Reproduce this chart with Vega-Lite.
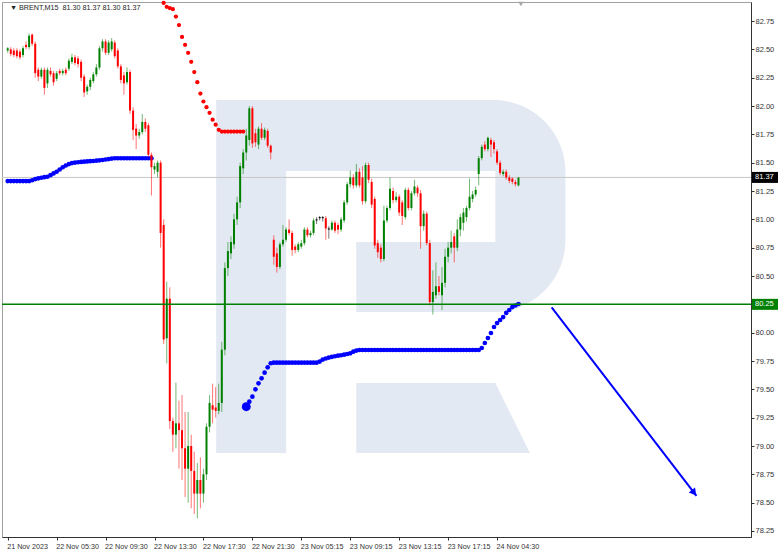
{
"$schema":"https://vega.github.io/schema/vega-lite/v6.json",
"width":749,"height":535,
"autosize":{"type":"none"},
"padding":{"left":2,"top":2,"right":31,"bottom":17},
"background":"#ffffff",
"config":{"view":{"stroke":"#a0a0a0","strokeWidth":1}},
"resolve":{"axis":{"x":"independent","y":"independent"}},
"datasets":{
"candles":[
{"i":0,"o":82.49,"h":82.52,"l":82.47,"c":82.51},{"i":1,"o":82.50,"h":82.52,"l":82.44,"c":82.46},{"i":2,"o":82.49,"h":82.51,"l":82.43,"c":82.45},{"i":3,"o":82.49,"h":82.51,"l":82.42,"c":82.44},{"i":4,"o":82.48,"h":82.50,"l":82.41,"c":82.43},{"i":5,"o":82.45,"h":82.53,"l":82.43,"c":82.51},{"i":6,"o":82.54,"h":82.57,"l":82.50,"c":82.52},{"i":7,"o":82.52,"h":82.64,"l":82.50,"c":82.62},{"i":8,"o":82.63,"h":82.64,"l":82.53,"c":82.55},{"i":9,"o":82.55,"h":82.57,"l":82.25,"c":82.29},
{"i":10,"o":82.32,"h":82.34,"l":82.22,"c":82.26},{"i":11,"o":82.26,"h":82.34,"l":82.24,"c":82.32},{"i":12,"o":82.32,"h":82.34,"l":82.10,"c":82.16},{"i":13,"o":82.20,"h":82.34,"l":82.16,"c":82.32},{"i":14,"o":82.31,"h":82.34,"l":82.26,"c":82.28},{"i":15,"o":82.29,"h":82.31,"l":82.18,"c":82.21},{"i":16,"o":82.24,"h":82.31,"l":82.22,"c":82.29},{"i":17,"o":82.31,"h":82.33,"l":82.27,"c":82.29},{"i":18,"o":82.29,"h":82.33,"l":82.27,"c":82.31},{"i":19,"o":82.32,"h":82.34,"l":82.27,"c":82.29},
{"i":20,"o":82.33,"h":82.42,"l":82.31,"c":82.40},{"i":21,"o":82.39,"h":82.46,"l":82.37,"c":82.43},{"i":22,"o":82.43,"h":82.45,"l":82.36,"c":82.38},{"i":23,"o":82.42,"h":82.44,"l":82.34,"c":82.37},{"i":24,"o":82.39,"h":82.41,"l":82.22,"c":82.25},{"i":25,"o":82.26,"h":82.28,"l":82.08,"c":82.12},{"i":26,"o":82.13,"h":82.19,"l":82.10,"c":82.17},{"i":27,"o":82.17,"h":82.25,"l":82.14,"c":82.23},{"i":28,"o":82.22,"h":82.30,"l":82.20,"c":82.28},{"i":29,"o":82.28,"h":82.37,"l":82.26,"c":82.34},
{"i":30,"o":82.34,"h":82.53,"l":82.32,"c":82.51},{"i":31,"o":82.51,"h":82.59,"l":82.48,"c":82.57},{"i":32,"o":82.57,"h":82.59,"l":82.45,"c":82.47},{"i":33,"o":82.47,"h":82.58,"l":82.45,"c":82.56},{"i":34,"o":82.50,"h":82.60,"l":82.48,"c":82.57},{"i":35,"o":82.56,"h":82.58,"l":82.42,"c":82.44},{"i":36,"o":82.49,"h":82.51,"l":82.33,"c":82.35},{"i":37,"o":82.35,"h":82.37,"l":82.20,"c":82.23},{"i":38,"o":82.27,"h":82.30,"l":82.10,"c":82.20},{"i":39,"o":82.21,"h":82.34,"l":82.19,"c":82.30},
{"i":40,"o":82.30,"h":82.32,"l":81.93,"c":81.96},{"i":41,"o":81.96,"h":81.99,"l":81.70,"c":81.79},{"i":42,"o":81.80,"h":81.84,"l":81.62,"c":81.74},{"i":43,"o":81.74,"h":81.80,"l":81.71,"c":81.77},{"i":44,"o":81.77,"h":81.93,"l":81.75,"c":81.86},{"i":45,"o":81.86,"h":81.89,"l":81.77,"c":81.80},{"i":46,"o":81.83,"h":81.85,"l":81.55,"c":81.57},{"i":47,"o":81.57,"h":81.59,"l":81.21,"c":81.46},{"i":48,"o":81.44,"h":81.50,"l":81.40,"c":81.47},{"i":49,"o":81.42,"h":81.52,"l":81.37,"c":81.50},
{"i":50,"o":81.50,"h":81.52,"l":80.75,"c":80.88},{"i":51,"o":80.95,"h":81.00,"l":79.90,"c":79.94},{"i":52,"o":79.95,"h":80.45,"l":79.73,"c":80.30},{"i":53,"o":80.30,"h":80.40,"l":79.15,"c":79.22},{"i":54,"o":79.22,"h":79.25,"l":78.95,"c":79.10},{"i":55,"o":79.10,"h":79.56,"l":78.98,"c":79.20},{"i":56,"o":79.20,"h":79.40,"l":78.80,"c":79.14},{"i":57,"o":79.14,"h":79.45,"l":78.70,"c":78.98},{"i":58,"o":78.98,"h":79.30,"l":78.55,"c":78.80},{"i":59,"o":78.80,"h":79.30,"l":78.50,"c":79.00},
{"i":60,"o":79.00,"h":79.10,"l":78.45,"c":78.78},{"i":61,"o":78.78,"h":78.95,"l":78.40,"c":78.58},{"i":62,"o":78.58,"h":78.85,"l":78.36,"c":78.70},{"i":63,"o":78.70,"h":78.90,"l":78.45,"c":78.58},{"i":64,"o":78.58,"h":78.80,"l":78.50,"c":78.75},{"i":65,"o":78.75,"h":79.20,"l":78.70,"c":79.17},{"i":66,"o":79.17,"h":79.45,"l":79.12,"c":79.38},{"i":67,"o":79.36,"h":79.55,"l":79.20,"c":79.32},{"i":68,"o":79.34,"h":79.52,"l":79.25,"c":79.31},{"i":69,"o":79.31,"h":79.55,"l":79.28,"c":79.38},
{"i":70,"o":79.38,"h":79.92,"l":79.30,"c":79.85},{"i":71,"o":79.85,"h":80.62,"l":79.80,"c":80.57},{"i":72,"o":80.57,"h":80.80,"l":80.50,"c":80.72},{"i":73,"o":80.70,"h":80.85,"l":80.65,"c":80.80},{"i":74,"o":80.78,"h":81.05,"l":80.74,"c":81.00},{"i":75,"o":81.00,"h":81.20,"l":80.95,"c":81.15},{"i":76,"o":81.15,"h":81.50,"l":81.10,"c":81.47},{"i":77,"o":81.45,"h":81.62,"l":81.40,"c":81.59},{"i":78,"o":81.59,"h":81.80,"l":81.52,"c":81.74},{"i":79,"o":81.70,"h":82.00,"l":81.65,"c":81.98},
{"i":80,"o":81.98,"h":82.00,"l":81.63,"c":81.67},{"i":81,"o":81.76,"h":81.80,"l":81.64,"c":81.68},{"i":82,"o":81.66,"h":81.82,"l":81.62,"c":81.80},{"i":83,"o":81.80,"h":81.85,"l":81.70,"c":81.72},{"i":84,"o":81.72,"h":81.81,"l":81.70,"c":81.79},{"i":85,"o":81.78,"h":81.80,"l":81.63,"c":81.65},{"i":86,"o":81.65,"h":81.66,"l":81.53,"c":81.59},{"i":87,"o":80.82,"h":80.86,"l":80.60,"c":80.67},{"i":88,"o":80.70,"h":80.75,"l":80.53,"c":80.58},{"i":89,"o":80.58,"h":80.80,"l":80.56,"c":80.78},
{"i":90,"o":80.78,"h":80.95,"l":80.76,"c":80.82},{"i":91,"o":80.82,"h":80.93,"l":80.80,"c":80.91},{"i":92,"o":80.91,"h":81.00,"l":80.86,"c":80.88},{"i":93,"o":80.88,"h":80.90,"l":80.68,"c":80.73},{"i":94,"o":80.76,"h":80.78,"l":80.70,"c":80.73},{"i":95,"o":80.73,"h":80.80,"l":80.71,"c":80.78},{"i":96,"o":80.76,"h":80.82,"l":80.74,"c":80.79},{"i":97,"o":80.79,"h":80.93,"l":80.77,"c":80.91},{"i":98,"o":80.91,"h":80.93,"l":80.84,"c":80.86},{"i":99,"o":80.86,"h":80.90,"l":80.84,"c":80.88},
{"i":100,"o":80.88,"h":81.01,"l":80.86,"c":80.99},{"i":101,"o":80.99,"h":81.02,"l":80.96,"c":81.00},{"i":102,"o":81.01,"h":81.03,"l":80.99,"c":81.02},{"i":103,"o":81.01,"h":81.03,"l":80.98,"c":81.02},{"i":104,"o":81.01,"h":81.03,"l":80.82,"c":80.92},{"i":105,"o":80.91,"h":80.94,"l":80.83,"c":80.92},{"i":106,"o":80.91,"h":80.99,"l":80.90,"c":80.97},{"i":107,"o":80.97,"h":80.99,"l":80.88,"c":80.90},{"i":108,"o":80.95,"h":80.97,"l":80.87,"c":80.91},{"i":109,"o":80.91,"h":81.02,"l":80.89,"c":81.00},
{"i":110,"o":80.99,"h":81.17,"l":80.97,"c":81.15},{"i":111,"o":81.15,"h":81.33,"l":81.13,"c":81.31},{"i":112,"o":81.31,"h":81.43,"l":81.28,"c":81.37},{"i":113,"o":81.37,"h":81.40,"l":81.27,"c":81.30},{"i":114,"o":81.30,"h":81.49,"l":81.28,"c":81.42},{"i":115,"o":81.42,"h":81.45,"l":81.28,"c":81.30},{"i":116,"o":81.37,"h":81.47,"l":81.13,"c":81.16},{"i":117,"o":81.16,"h":81.50,"l":81.14,"c":81.48},{"i":118,"o":81.48,"h":81.50,"l":81.32,"c":81.35},{"i":119,"o":81.33,"h":81.36,"l":81.10,"c":81.13},
{"i":120,"o":81.18,"h":81.20,"l":80.74,"c":80.77},{"i":121,"o":80.79,"h":80.82,"l":80.66,"c":80.71},{"i":122,"o":80.75,"h":80.78,"l":80.62,"c":80.65},{"i":123,"o":80.65,"h":81.12,"l":80.63,"c":80.99},{"i":124,"o":80.99,"h":81.12,"l":80.97,"c":81.10},{"i":125,"o":81.10,"h":81.37,"l":81.08,"c":81.27},{"i":126,"o":81.25,"h":81.28,"l":81.14,"c":81.17},{"i":127,"o":81.17,"h":81.24,"l":81.15,"c":81.20},{"i":128,"o":81.20,"h":81.22,"l":81.03,"c":81.06},{"i":129,"o":81.15,"h":81.17,"l":80.95,"c":81.03},
{"i":130,"o":81.02,"h":81.28,"l":81.00,"c":81.26},{"i":131,"o":81.26,"h":81.28,"l":81.08,"c":81.10},{"i":132,"o":81.10,"h":81.25,"l":81.08,"c":81.23},{"i":133,"o":81.23,"h":81.35,"l":81.21,"c":81.29},{"i":134,"o":81.28,"h":81.30,"l":81.20,"c":81.23},{"i":135,"o":81.23,"h":81.26,"l":80.74,"c":80.94},{"i":136,"o":80.94,"h":81.08,"l":80.90,"c":81.05},{"i":137,"o":81.05,"h":81.07,"l":80.77,"c":80.79},{"i":138,"o":80.79,"h":80.82,"l":80.24,"c":80.27},{"i":139,"o":80.27,"h":80.55,"l":80.16,"c":80.36},
{"i":140,"o":80.33,"h":80.62,"l":80.30,"c":80.41},{"i":141,"o":80.41,"h":80.50,"l":80.33,"c":80.36},{"i":142,"o":80.33,"h":80.58,"l":80.20,"c":80.44},{"i":143,"o":80.44,"h":80.74,"l":80.40,"c":80.67},{"i":144,"o":80.67,"h":80.80,"l":80.62,"c":80.75},{"i":145,"o":80.75,"h":80.90,"l":80.70,"c":80.80},{"i":146,"o":80.85,"h":80.88,"l":80.62,"c":80.75},{"i":147,"o":80.75,"h":81.00,"l":80.72,"c":80.91},{"i":148,"o":80.91,"h":81.05,"l":80.85,"c":81.02},{"i":149,"o":80.97,"h":81.10,"l":80.90,"c":81.06},
{"i":150,"o":81.02,"h":81.12,"l":80.98,"c":81.10},{"i":151,"o":81.10,"h":81.36,"l":81.08,"c":81.20},{"i":152,"o":81.18,"h":81.25,"l":81.15,"c":81.22},{"i":153,"o":81.22,"h":81.29,"l":81.20,"c":81.26},{"i":154,"o":81.40,"h":81.56,"l":81.30,"c":81.54},{"i":155,"o":81.54,"h":81.66,"l":81.52,"c":81.64},{"i":156,"o":81.66,"h":81.69,"l":81.60,"c":81.62},{"i":157,"o":81.62,"h":81.73,"l":81.60,"c":81.72},{"i":158,"o":81.70,"h":81.72,"l":81.55,"c":81.66},{"i":159,"o":81.68,"h":81.70,"l":81.58,"c":81.62},
{"i":160,"o":81.60,"h":81.62,"l":81.48,"c":81.50},{"i":161,"o":81.50,"h":81.52,"l":81.39,"c":81.41},{"i":162,"o":81.40,"h":81.44,"l":81.38,"c":81.42},{"i":163,"o":81.42,"h":81.44,"l":81.35,"c":81.37},{"i":164,"o":81.37,"h":81.39,"l":81.32,"c":81.34},{"i":165,"o":81.36,"h":81.37,"l":81.31,"c":81.33},{"i":166,"o":81.33,"h":81.35,"l":81.29,"c":81.31},{"i":167,"o":81.30,"h":81.37,"l":81.29,"c":81.37}
],
"blue":[
{"i":0,"p":81.338},{"i":1,"p":81.338},{"i":2,"p":81.338},{"i":3,"p":81.338},{"i":4,"p":81.338},{"i":5,"p":81.338},{"i":6,"p":81.338},{"i":7,"p":81.338},{"i":8,"p":81.345},{"i":9,"p":81.355},{"i":10,"p":81.362},{"i":11,"p":81.367},{"i":12,"p":81.372},{"i":13,"p":81.376},{"i":14,"p":81.39},{"i":15,"p":81.405},{"i":16,"p":81.42},{"i":17,"p":81.44},{"i":18,"p":81.46},{"i":19,"p":81.475},{"i":20,"p":81.488},{"i":21,"p":81.497},{"i":22,"p":81.501},{"i":23,"p":81.504},{"i":24,"p":81.507},{"i":25,"p":81.509},{"i":26,"p":81.511},{"i":27,"p":81.513},{"i":28,"p":81.515},{"i":29,"p":81.518},{"i":30,"p":81.521},{"i":31,"p":81.524},{"i":32,"p":81.528},{"i":33,"p":81.532},{"i":34,"p":81.536},{"i":35,"p":81.539},{"i":36,"p":81.539},{"i":37,"p":81.539},{"i":38,"p":81.539},{"i":39,"p":81.539},{"i":40,"p":81.539},{"i":41,"p":81.539},{"i":42,"p":81.539},{"i":43,"p":81.539},{"i":44,"p":81.539},{"i":45,"p":81.539},{"i":46,"p":81.539},{"i":47,"p":81.539},
{"i":79,"p":79.391},{"i":80,"p":79.435},{"i":81,"p":79.50},{"i":82,"p":79.553},{"i":83,"p":79.597},{"i":84,"p":79.647},{"i":85,"p":79.694},{"i":86,"p":79.73},{"i":87,"p":79.735},{"i":88,"p":79.735},{"i":89,"p":79.735},{"i":90,"p":79.735},{"i":91,"p":79.735},{"i":92,"p":79.735},{"i":93,"p":79.735},{"i":94,"p":79.735},{"i":95,"p":79.735},{"i":96,"p":79.735},{"i":97,"p":79.735},{"i":98,"p":79.735},{"i":99,"p":79.735},{"i":100,"p":79.735},{"i":101,"p":79.735},{"i":102,"p":79.745},{"i":103,"p":79.763},{"i":104,"p":79.772},{"i":105,"p":79.78},{"i":106,"p":79.787},{"i":107,"p":79.792},{"i":108,"p":79.797},{"i":109,"p":79.801},{"i":110,"p":79.806},{"i":111,"p":79.812},{"i":112,"p":79.818},{"i":113,"p":79.832},{"i":114,"p":79.842},
{"i":115,"p":79.847},{"i":116,"p":79.847},{"i":117,"p":79.847},{"i":118,"p":79.847},{"i":119,"p":79.847},{"i":120,"p":79.847},{"i":121,"p":79.847},{"i":122,"p":79.847},{"i":123,"p":79.847},{"i":124,"p":79.847},{"i":125,"p":79.847},{"i":126,"p":79.847},{"i":127,"p":79.847},{"i":128,"p":79.847},{"i":129,"p":79.847},{"i":130,"p":79.847},{"i":131,"p":79.847},{"i":132,"p":79.847},{"i":133,"p":79.847},{"i":134,"p":79.847},{"i":135,"p":79.847},{"i":136,"p":79.847},{"i":137,"p":79.847},{"i":138,"p":79.847},{"i":139,"p":79.847},{"i":140,"p":79.847},{"i":141,"p":79.847},{"i":142,"p":79.847},{"i":143,"p":79.847},{"i":144,"p":79.847},{"i":145,"p":79.847},{"i":146,"p":79.847},{"i":147,"p":79.847},{"i":148,"p":79.847},{"i":149,"p":79.847},{"i":150,"p":79.847},{"i":151,"p":79.847},{"i":152,"p":79.847},{"i":153,"p":79.847},{"i":154,"p":79.847},
{"i":155,"p":79.865},{"i":156,"p":79.909},{"i":157,"p":79.953},{"i":158,"p":79.997},{"i":159,"p":80.05},{"i":160,"p":80.085},{"i":161,"p":80.112},{"i":162,"p":80.138},{"i":163,"p":80.174},{"i":164,"p":80.20},{"i":165,"p":80.226},{"i":166,"p":80.24},{"i":167,"p":80.253}
],
"red":[
{"i":51,"p":82.91},{"i":52,"p":82.875},{"i":53,"p":82.865},{"i":54,"p":82.855},{"i":55,"p":82.79},{"i":56,"p":82.715},{"i":57,"p":82.61},{"i":58,"p":82.54},{"i":59,"p":82.47},{"i":60,"p":82.39},{"i":61,"p":82.30},{"i":62,"p":82.21},{"i":63,"p":82.11},{"i":64,"p":82.04},{"i":65,"p":81.99},{"i":66,"p":81.94},{"i":67,"p":81.88},{"i":68,"p":81.835},{"i":69,"p":81.79},{"i":70,"p":81.775},{"i":71,"p":81.775},{"i":72,"p":81.775},{"i":73,"p":81.775},{"i":74,"p":81.775},{"i":75,"p":81.775},{"i":76,"p":81.775},{"i":77,"p":81.775}
]
},
"layer":[
{"data":{"values":[{"i":68.16,"i2":182.35,"p":82.053,"p2":80.182}]},
 "mark":{"type":"rect","color":"#e3e9f2","cornerRadiusTopRight":72,"cornerRadiusBottomRight":72},
 "encoding":{"x":{"field":"i","type":"quantitative","scale":{"domain":[-0.226,241.39],"nice":false,"zero":false},"axis":null},"x2":{"field":"i2"},
  "y":{"field":"p","type":"quantitative","scale":{"domain":[78.197,82.918],"nice":false,"zero":false},"axis":null},"y2":{"field":"p2"}}},
{"data":{"values":[{"i":91.06,"i2":159.45,"p":81.426,"p2":80.80},{"i":91.06,"i2":113.97,"p":80.81,"p2":80.17}]},
 "mark":{"type":"rect","color":"#ffffff"},
 "encoding":{"x":{"field":"i","type":"quantitative","scale":{"domain":[-0.226,241.39],"nice":false,"zero":false},"axis":null},"x2":{"field":"i2"},
  "y":{"field":"p","type":"quantitative","scale":{"domain":[78.197,82.918],"nice":false,"zero":false},"axis":null},"y2":{"field":"p2"}}},
{"data":{"values":[{"i":68.16,"i2":91.06,"p":80.19,"p2":78.938}]},
 "mark":{"type":"rect","color":"#e3e9f2"},
 "encoding":{"x":{"field":"i","type":"quantitative","scale":{"domain":[-0.226,241.39],"nice":false,"zero":false},"axis":null},"x2":{"field":"i2"},
  "y":{"field":"p","type":"quantitative","scale":{"domain":[78.197,82.918],"nice":false,"zero":false},"axis":null},"y2":{"field":"p2"}}},
{"data":{"values":[{"i":113.97,"p":79.556,"p2":78.938},{"i":159.45,"p":79.556,"p2":78.938},{"i":170.74,"p":78.938,"p2":78.938}]},
 "mark":{"type":"area","color":"#e3e9f2","opacity":1},
 "encoding":{"x":{"field":"i","type":"quantitative","scale":{"domain":[-0.226,241.39],"nice":false,"zero":false},"axis":null},
  "y":{"field":"p","type":"quantitative","scale":{"domain":[78.197,82.918],"nice":false,"zero":false},"axis":null},"y2":{"field":"p2"}}},
{"data":{"values":[{"p":81.37}]},
 "mark":{"type":"rule","color":"#c6c6c6","strokeWidth":1},
 "encoding":{"y":{"field":"p","type":"quantitative","scale":{"domain":[78.197,82.918],"nice":false,"zero":false},"axis":null}}},
{"data":{"name":"red"},
 "mark":{"type":"circle","size":18,"color":"#ff0000","opacity":1},
 "encoding":{"x":{"field":"i","type":"quantitative","scale":{"domain":[-0.226,241.39],"nice":false,"zero":false},"axis":null},
  "y":{"field":"p","type":"quantitative","scale":{"domain":[78.197,82.918],"nice":false,"zero":false},"axis":null}}},
{"data":{"name":"blue"},
 "mark":{"type":"circle","size":22,"color":"#0000ff","opacity":1},
 "encoding":{"x":{"field":"i","type":"quantitative","scale":{"domain":[-0.226,241.39],"nice":false,"zero":false},"axis":null},
  "y":{"field":"p","type":"quantitative","scale":{"domain":[78.197,82.918],"nice":false,"zero":false},"axis":null}}},
{"data":{"values":[{"i":78,"p":79.347}]},
 "mark":{"type":"circle","size":80,"color":"#0000ff","opacity":1},
 "encoding":{"x":{"field":"i","type":"quantitative","scale":{"domain":[-0.226,241.39],"nice":false,"zero":false},"axis":null},
  "y":{"field":"p","type":"quantitative","scale":{"domain":[78.197,82.918],"nice":false,"zero":false},"axis":null}}},
{"data":{"name":"candles"},
 "mark":{"type":"rule","strokeWidth":1,"opacity":0.55},
 "encoding":{"x":{"field":"i","type":"quantitative","scale":{"domain":[-0.226,241.39],"nice":false,"zero":false},"axis":null},
  "y":{"field":"l","type":"quantitative","scale":{"domain":[78.197,82.918],"nice":false,"zero":false},"axis":null},"y2":{"field":"h"},
  "color":{"condition":[{"test":"abs(datum.c-datum.o)<0.012","value":"#000000"},{"test":"datum.c>datum.o","value":"#008000"}],"value":"#ff0000"}}},
{"data":{"name":"candles"},
 "mark":{"type":"bar","size":2},
 "encoding":{"x":{"field":"i","type":"quantitative","scale":{"domain":[-0.226,241.39],"nice":false,"zero":false},
   "axis":{"orient":"bottom","title":null,"grid":false,"values":[0,16,32,48,64,80,96,112,128,144,160],
    "labelExpr":"['21 Nov 2023','22 Nov 05:30','22 Nov 09:30','22 Nov 13:30','22 Nov 17:30','22 Nov 21:30','23 Nov 05:15','23 Nov 09:15','23 Nov 13:15','23 Nov 17:15','24 Nov 04:30'][round(datum.value/16)]",
    "domainColor":"#333333","tickColor":"#333333","tickSize":3,"labelAlign":"left","labelBaseline":"top","labelPadding":2,"labelOffset":-1,
    "labelFont":"Liberation Sans","labelFontSize":7.2,"labelColor":"#333333","labelFlush":false,"labelOverlap":false}},
  "y":{"field":"o","type":"quantitative","scale":{"domain":[78.197,82.918],"nice":false,"zero":false},
   "axis":{"orient":"right","title":null,"grid":false,"values":[78.25,78.5,78.75,79,79.25,79.5,79.75,80,80.25,80.5,80.75,81,81.25,81.5,81.75,82,82.25,82.5,82.75],
    "format":".2f","domainColor":"#333333","tickColor":"#333333","tickSize":3,"labelPadding":1,
    "labelFont":"Liberation Sans","labelFontSize":7.5,"labelColor":"#333333","labelOverlap":false,"labelFlush":false}},
  "y2":{"field":"c"},
  "color":{"condition":[{"test":"abs(datum.c-datum.o)<0.012","value":"#000000"},{"test":"datum.c>datum.o","value":"#008000"}],"value":"#ff0000"}}},
{"data":{"values":[{"p":80.25}]},
 "mark":{"type":"rule","color":"#008000","strokeWidth":1.5},
 "encoding":{"y":{"field":"p","type":"quantitative","scale":{"domain":[78.197,82.918],"nice":false,"zero":false},"axis":null}}},
{"data":{"values":[{"i":177.85,"p":80.224},{"i":225.2,"p":78.559}]},
 "mark":{"type":"line","color":"#0000ff","strokeWidth":2},
 "encoding":{"x":{"field":"i","type":"quantitative","scale":{"domain":[-0.226,241.39],"nice":false,"zero":false},"axis":null},
  "y":{"field":"p","type":"quantitative","scale":{"domain":[78.197,82.918],"nice":false,"zero":false},"axis":null}}},
{"data":{"values":[{"i":224.4,"p":78.587}]},
 "mark":{"type":"point","shape":"triangle-up","size":64,"angle":142,"filled":true,"color":"#0000ff","opacity":1},
 "encoding":{"x":{"field":"i","type":"quantitative","scale":{"domain":[-0.226,241.39],"nice":false,"zero":false},"axis":null},
  "y":{"field":"p","type":"quantitative","scale":{"domain":[78.197,82.918],"nice":false,"zero":false},"axis":null}}},
{"data":{"values":[{"i":167.8,"p":82.90}]},
 "mark":{"type":"point","shape":"triangle-down","size":28,"filled":true,"color":"#a8a8a8","opacity":1},
 "encoding":{"x":{"field":"i","type":"quantitative","scale":{"domain":[-0.226,241.39],"nice":false,"zero":false},"axis":null},
  "y":{"field":"p","type":"quantitative","scale":{"domain":[78.197,82.918],"nice":false,"zero":false},"axis":null}}},
{"data":{"values":[{"p":81.37,"t":"81.37","k":"a"},{"p":80.25,"t":"80.25","k":"b"}]},
 "mark":{"type":"rect","xOffset":1,"x2Offset":27,"yOffset":-5.5,"y2Offset":5.5,"clip":false},
 "encoding":{"x":{"value":"width"},"x2":{"value":"width"},
  "y":{"field":"p","type":"quantitative","scale":{"domain":[78.197,82.918],"nice":false,"zero":false},"axis":null},"y2":{"field":"p"},
  "color":{"field":"k","type":"nominal","scale":{"domain":["a","b"],"range":["#000000","#008000"]},"legend":null}}},
{"data":{"values":[{"p":81.37,"t":"81.37"},{"p":80.25,"t":"80.25"}]},
 "mark":{"type":"text","align":"left","baseline":"middle","dx":4,"font":"Liberation Sans","fontSize":7.5,"color":"#ffffff","clip":false},
 "encoding":{"x":{"value":"width"},
  "y":{"field":"p","type":"quantitative","scale":{"domain":[78.197,82.918],"nice":false,"zero":false},"axis":null},"text":{"field":"t"}}},
{"data":{"values":[{"i":0.74,"p":82.865,"t":"▼ BRENT,M15\u00a0\u00a081.30 81.37 81.30 81.37"}]},
 "mark":{"type":"text","align":"left","baseline":"middle","font":"Liberation Sans","fontSize":7.2,"color":"#222222"},
 "encoding":{"x":{"field":"i","type":"quantitative","scale":{"domain":[-0.226,241.39],"nice":false,"zero":false},"axis":null},
  "y":{"field":"p","type":"quantitative","scale":{"domain":[78.197,82.918],"nice":false,"zero":false},"axis":null},"text":{"field":"t"}}}
]
}
